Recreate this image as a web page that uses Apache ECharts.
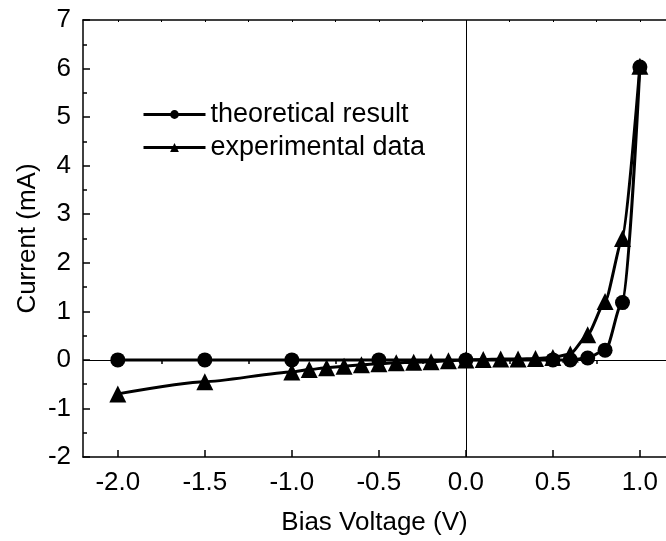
<!DOCTYPE html>
<html>
<head>
<meta charset="utf-8">
<script src="https://cdn.jsdelivr.net/npm/echarts@6/dist/echarts.min.js"></script>
<style>
  html, body { margin: 0; padding: 0; background: #fff; }
  #chart { width: 666px; height: 541px; }
</style>
</head>
<body>
<div id="chart"></div>
<script>
// data
const theoX = [-2, -1.5, -1, -0.5, 0, 0.5, 0.6, 0.7, 0.8, 0.9, 1.0];
const theoY = [0, 0, 0, 0, 0, 0, 0, 0.04, 0.2, 1.18, 6.03];
const expX = [-2, -1.5, -1, -0.9, -0.8, -0.7, -0.6, -0.5, -0.4, -0.3, -0.2, -0.1,
  0, 0.1, 0.2, 0.3, 0.4, 0.5, 0.6, 0.7, 0.8, 0.9, 1.0];
const expY = [-0.7, -0.45, -0.25, -0.2, -0.16, -0.13, -0.1, -0.08, -0.06, -0.05, -0.04, -0.02,
  0, 0.01, 0.02, 0.02, 0.03, 0.05, 0.12, 0.52, 1.2, 2.5, 6.05];
const xMajor = [-2.0, -1.5, -1.0, -0.5, 0.0, 0.5, 1.0];
const xMinor = [-1.75, -1.25, -0.75, -0.25, 0.25, 0.75];
const labels = ["theoretical result", "experimental data"];

const chart = echarts.init(document.getElementById("chart"));
const font = "Liberation Sans, Arial, sans-serif";
const black = "#000";

chart.setOption({
  animation: false,
  textStyle: { fontFamily: font, color: black },
  legend: {
    left: 137,
    top: 96,
    orient: "vertical",
    itemWidth: 62,
    itemHeight: 11,
    itemGap: 6,
    lineStyle: { width: 3 },
    textStyle: { fontSize: 27, color: black, lineHeight: 27, fontFamily: font },
    data: labels,
  },
  // the plot box runs past the right edge of the picture, so the x range stops at 1.15
  grid: { left: 83, top: 20, right: 0, height: 437 },
  xAxis: [
    {
      type: "value",
      min: -2.2,
      max: 1.15,
      name: "Bias Voltage (V)",
      nameLocation: "middle",
      nameGap: 53,
      nameMoveOverlap: false,
      nameTextStyle: { fontSize: 26, color: black },
      axisLine: { onZero: false, lineStyle: { color: black, width: 1.5 } },
      axisTick: { inside: true, length: 7, customValues: xMajor, lineStyle: { color: black, width: 1.5 } },
      axisLabel: {
        customValues: xMajor,
        fontSize: 26,
        color: black,
        margin: 13,
        formatter: (v) => v.toFixed(1),
      },
      splitLine: { show: false },
    },
    {
      type: "value",
      min: -2.2,
      max: 1.15,
      axisLine: { show: false },
      axisTick: { inside: true, length: 4, customValues: xMinor, lineStyle: { color: black, width: 1.5 } },
      axisLabel: { show: false },
      splitLine: { show: false },
    },
    {
      type: "value",
      position: "top",
      min: -2.2,
      max: 1.15,
      axisLine: { lineStyle: { color: black, width: 1.5 } },
      axisTick: { inside: true, length: 2, customValues: xMajor.concat(xMinor), lineStyle: { color: black } },
      axisLabel: { show: false },
      splitLine: { show: false },
    },
  ],
  yAxis: {
    type: "value",
    min: -2,
    max: 7,
    interval: 1,
    name: "Current (mA)",
    nameLocation: "middle",
    nameGap: 42,
    nameMoveOverlap: false,
    nameTextStyle: { fontSize: 26, color: black },
    axisLine: { onZero: false, lineStyle: { color: black, width: 1.5 } },
    axisTick: { inside: true, length: 7, lineStyle: { color: black, width: 1.5 } },
    minorTick: { show: true, splitNumber: 2, length: 4, lineStyle: { color: black, width: 1.5 } },
    axisLabel: { fontSize: 26, color: black, margin: 12 },
    splitLine: { show: false },
  },
  series: [
    {
      name: labels[0],
      type: "line",
      data: theoX.map((x, i) => [x, theoY[i]]),
      symbol: "circle",
      symbolSize: 15,
      smooth: 0.3,
      smoothMonotone: "x",
      itemStyle: { color: black },
      lineStyle: { color: black, width: 3 },
      z: 3,
      markLine: {
        silent: true,
        symbol: "none",
        label: { show: false },
        lineStyle: { color: black, width: 1, type: "solid" },
        data: [{ xAxis: 0 }, { yAxis: 0 }],
      },
    },
    {
      name: labels[1],
      type: "line",
      data: expX.map((x, i) => [x, expY[i]]),
      symbol: "triangle",
      symbolSize: 17,
      smooth: 0.2,
      smoothMonotone: "x",
      itemStyle: { color: black },
      lineStyle: { color: black, width: 3 },
      z: 4,
    },
  ],
});
</script>
</body>
</html>
